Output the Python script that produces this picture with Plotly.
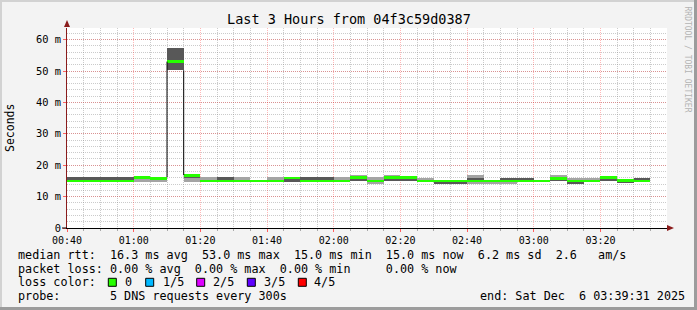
import plotly.graph_objects as go

# ---------------- data ----------------
bin_times = ["00:40", "00:45", "00:50", "00:55", "01:00", "01:05", "01:10", "01:15",
             "01:20", "01:25", "01:30", "01:35", "01:40", "01:45", "01:50", "01:55",
             "02:00", "02:05", "02:10", "02:15", "02:20", "02:25", "02:30", "02:35",
             "02:40", "02:45", "02:50", "02:55", "03:00", "03:05", "03:10", "03:15",
             "03:20", "03:25", "03:30"]
median_ms = [15.0, 15.0, 15.0, 15.0, 16.1, 15.8, 53.0, 16.7,
             15.0, 15.0, 15.0, 15.0, 15.0, 15.9, 15.0, 15.0,
             15.0, 16.0, 15.0, 16.0, 16.1, 15.0, 15.0, 15.0,
             15.0, 15.0, 15.0, 15.0, 15.0, 15.8, 15.0, 15.0,
             16.1, 15.1, 15.0]
ping_min = [14.9, 14.9, 14.9, 14.9, 14.8, 14.8, 50.2, 14.8,
            14.9, 14.9, 14.9, 14.9, 14.9, 14.8, 14.9, 14.9,
            14.9, 14.9, 13.9, 14.9, 14.9, 14.9, 14.0, 14.0,
            13.9, 14.0, 14.0, 14.9, 14.9, 14.9, 14.0, 14.9,
            14.9, 14.2, 14.9]
ping_q1 = [14.9, 14.9, 14.9, 14.9, 16.0, 15.7, 50.3, 15.9,
           14.9, 14.9, 14.9, 14.9, 14.9, 14.8, 14.9, 14.9,
           14.9, 14.9, 15.0, 14.9, 14.9, 14.9, 14.0, 14.0,
           14.9, 14.9, 14.9, 14.9, 14.9, 14.9, 14.0, 14.9,
           14.9, 14.2, 14.9]
ping_q3 = [16.1, 16.1, 16.1, 16.1, 16.2, 16.0, 57.2, 16.8,
           15.1, 16.1, 15.1, 15.1, 15.1, 16.0, 16.1, 16.1,
           15.1, 16.1, 15.1, 16.1, 16.2, 15.1, 15.1, 15.1,
           16.0, 15.1, 16.0, 16.0, 15.1, 15.9, 15.1, 15.1,
           16.2, 15.2, 16.0]
ping_max = [16.1, 16.1, 16.1, 16.1, 16.2, 16.1, 57.3, 16.8,
            16.1, 16.1, 16.1, 15.1, 16.1, 16.0, 16.1, 16.1,
            16.1, 17.0, 16.1, 17.0, 16.2, 16.0, 15.1, 15.1,
            17.0, 15.1, 16.0, 16.0, 15.1, 17.0, 16.0, 16.0,
            16.2, 15.2, 16.0]
y_tick_vals = [0, 10, 20, 30, 40, 50, 60]
y_tick_text = ["0", "10 m", "20 m", "30 m", "40 m", "50 m", "60 m"]
loss_labels = ["0", "1/5", "2/5", "3/5", "4/5"]
loss_colors = ["#26ff00", "#00b8ff", "#dd00ff", "#5e00ff", "#ff0000"]

title_text = "Last 3 Hours from 04f3c59d0387"
legend_lines = [
    "median rtt:  16.3 ms avg  53.0 ms max  15.0 ms min  15.0 ms now  6.2 ms sd  2.6   am/s",
    "packet loss: 0.00 % avg  0.00 % max  0.00 % min     0.00 % now",
]
probe_text = "probe:       5 DNS requests every 300s"
end_text = "end: Sat Dec  6 03:39:31 2025"

# ---------------- geometry ----------------
W, H = 697, 310
ML, MT, PW, PH = 67, 28, 600, 200
MR, MB = W - ML - PW, H - MT - PH
DAY = "2025-12-06 "
STEP_MS = 300000
HALF = 0.43         # half thickness of the median band (ms)
MONO = "DejaVu Sans Mono"


def X(px):
    return (px - ML) / PW


def Y(py):
    return (MT + PH - py) / PH


def nb(s):
    return s.replace(" ", "\u00a0")


xs = [DAY + t for t in bin_times]

fig = go.Figure()

# outer smoke band (min..max)
fig.add_trace(go.Bar(x=xs, base=ping_min, y=[b - a for a, b in zip(ping_min, ping_max)],
                     width=STEP_MS, offset=0, marker=dict(color="#a4a4a4", line=dict(width=0)),
                     hoverinfo="skip", showlegend=False))
# inner smoke band (q1..q3)
fig.add_trace(go.Bar(x=xs, base=ping_q1, y=[b - a for a, b in zip(ping_q1, ping_q3)],
                     width=STEP_MS, offset=0, marker=dict(color="#585858", line=dict(width=0)),
                     hoverinfo="skip", showlegend=False))

# black edges around the spike bin
spike = max(range(len(median_ms)), key=lambda i: median_ms[i])
t0 = DAY + bin_times[spike]
t1 = DAY + bin_times[spike + 1]
fig.add_trace(go.Scatter(
    x=[t0, t0, None, t1, t1],
    y=[max(ping_max[spike - 1], median_ms[spike - 1] + HALF), median_ms[spike], None,
       ping_min[spike], max(ping_max[spike + 1], median_ms[spike + 1])],
    mode="lines", line=dict(color="#000000", width=1), hoverinfo="skip", showlegend=False))

# median band (loss 0 -> green)
fig.add_trace(go.Bar(x=xs, base=[m - HALF for m in median_ms], y=[2 * HALF] * len(median_ms),
                     width=STEP_MS, offset=0, marker=dict(color=loss_colors[0], line=dict(width=0)),
                     hoverinfo="skip", showlegend=False))

annotations = []
annotations.append(dict(x=X(348.5), y=Y(19), xref="paper", yref="paper", text=nb(title_text),
                        showarrow=False, xanchor="center", yanchor="middle",
                        font=dict(family=MONO, size=13.5, color="#000")))
annotations.append(dict(x=X(10), y=Y(128), xref="paper", yref="paper", text="Seconds",
                        textangle=-90, showarrow=False, xanchor="center", yanchor="middle",
                        font=dict(family=MONO, size=11.5, color="#000")))
annotations.append(dict(x=X(687.5), y=Y(59), xref="paper", yref="paper",
                        text=nb("RRDTOOL / TOBI OETIKER"), textangle=90, showarrow=False,
                        xanchor="center", yanchor="middle",
                        font=dict(family=MONO, size=8, color="#b4b4b4")))
legend_y = [254.5, 268.5, 282.3, 296.0]
for line, ly in zip(legend_lines, legend_y[:2]):
    annotations.append(dict(x=X(16), y=Y(ly), xref="paper", yref="paper", text=nb(line),
                            showarrow=False, xanchor="left", yanchor="middle",
                            font=dict(family=MONO, size=11.75, color="#000")))
annotations.append(dict(x=X(16), y=Y(legend_y[2]), xref="paper", yref="paper", text=nb("loss color:"),
                        showarrow=False, xanchor="left", yanchor="middle",
                        font=dict(family=MONO, size=11.75, color="#000")))
annotations.append(dict(x=X(16), y=Y(legend_y[3]), xref="paper", yref="paper", text=nb(probe_text),
                        showarrow=False, xanchor="left", yanchor="middle",
                        font=dict(family=MONO, size=11.75, color="#000")))
annotations.append(dict(x=X(478), y=Y(legend_y[3]), xref="paper", yref="paper", text=nb(end_text),
                        showarrow=False, xanchor="left", yanchor="middle",
                        font=dict(family=MONO, size=11.75, color="#000")))

shapes = []
box_x = [108.3, 145.7, 196.7, 247.3, 298.3]
lab_x = [123.3, 160.7, 210.7, 261.7, 312.3]
for bx, lx, lab, col in zip(box_x, lab_x, loss_labels, loss_colors):
    shapes.append(dict(type="rect", xref="paper", yref="paper", x0=X(bx), x1=X(bx + 8),
                       y0=Y(legend_y[2] + 4), y1=Y(legend_y[2] - 4), fillcolor=col,
                       line=dict(color="#000", width=1), layer="above"))
    annotations.append(dict(x=X(lx), y=Y(legend_y[2]), xref="paper", yref="paper", text=nb(lab),
                            showarrow=False, xanchor="left", yanchor="middle",
                            font=dict(family=MONO, size=11.75, color="#000")))

# axis arrows
shapes.append(dict(type="path", xref="paper", yref="paper",
                   path=f"M {X(64)} {Y(27)} L {X(70)} {Y(27)} L {X(67)} {Y(20)} Z",
                   fillcolor="#8b1c1c", line=dict(width=0), layer="above"))
shapes.append(dict(type="path", xref="paper", yref="paper",
                   path=f"M {X(667)} {Y(225)} L {X(667)} {Y(231)} L {X(674)} {Y(228)} Z",
                   fillcolor="#8b1c1c", line=dict(width=0), layer="above"))
shapes.append(dict(type="line", xref="paper", yref="paper", x0=X(62), x1=X(67), y0=0, y1=0,
                   line=dict(color="#000", width=1), layer="above"))
# 3D frame of the canvas
for x0, x1, y0, y1, col in [(0, W, 0, 2, "#d2d2d2"), (0, 2, 0, H, "#d2d2d2"),
                            (0, W, H - 3, H, "#9c9c9c"), (W - 3, W, 0, H, "#9c9c9c")]:
    shapes.append(dict(type="rect", xref="paper", yref="paper", x0=X(x0), x1=X(x1),
                       y0=Y(y1), y1=Y(y0), fillcolor=col, line=dict(width=0), layer="above"))

fig.update_layout(
    width=W, height=H,
    margin=dict(l=ML, r=MR, t=MT, b=MB, pad=0),
    paper_bgcolor="#f3f3f3", plot_bgcolor="#ffffff",
    barmode="overlay", bargap=0,
    showlegend=False,
    annotations=annotations, shapes=shapes,
    xaxis=dict(type="date", range=[DAY + "00:40", DAY + "03:39:58"],
               tick0=DAY + "00:40", dtick=1200000, tickformat="%H:%M",
               showgrid=True, gridcolor="rgba(255,0,0,0.28)", griddash="1px,1px", gridwidth=1,
               minor=dict(dtick=STEP_MS, showgrid=True, gridcolor="rgba(140,140,140,0.45)",
                          griddash="1px,1px", ticks="outside", ticklen=2, tickcolor="#aaaaaa"),
               showline=True, linecolor="#000", linewidth=1,
               ticks="outside", ticklen=3, tickcolor="#ff6060",
               tickfont=dict(family=MONO, size=10, color="#000"),
               zeroline=False, fixedrange=True),
    yaxis=dict(range=[0, 200 / 3.14], tickvals=y_tick_vals, ticktext=y_tick_text,
               showgrid=True, gridcolor="rgba(255,0,0,0.28)", griddash="1px,1px", gridwidth=1,
               minor=dict(dtick=2, showgrid=True, gridcolor="rgba(140,140,140,0.45)",
                          griddash="1px,1px"),
               showline=True, linecolor="#8b1c1c", linewidth=1,
               ticks="outside", ticklen=3, tickcolor="#ff6060",
               tickfont=dict(family=MONO, size=10.4, color="#000"),
               zeroline=False, fixedrange=True),
)

fig.write_html("out.html")
